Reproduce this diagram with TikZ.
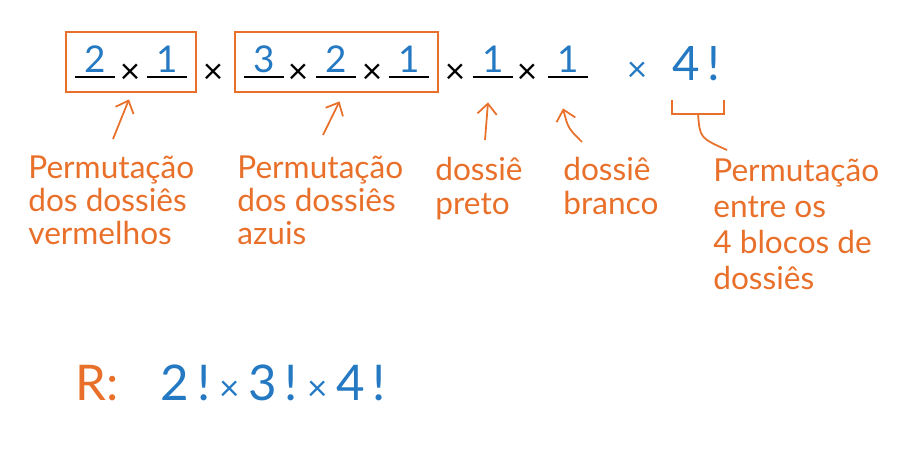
\documentclass[tikz,border=0pt]{standalone}
\usepackage{fontspec}
\setmainfont{Lato}
\usetikzlibrary{positioning, fit, calc, arrows.meta}
\definecolor{penOrange}{HTML}{E8702A}
\definecolor{penBlue}{HTML}{2479C2}

\begin{document}
\begin{tikzpicture}[
    x=0.02cm, y=-0.02cm,
    slot/.style={inner sep=0pt, minimum width=0.8cm, text height=0.5cm, text depth=0.1cm, anchor=base, font=\fontsize{21}{21}\selectfont, penBlue},
    times/.style={inner sep=0pt, font=\fontsize{20}{20}\selectfont},
    group/.style={draw=penOrange, line width=1.2pt, inner xsep=0.18cm, inner ysep=0.3cm},
    note/.style={penOrange, align=left, anchor=north west, inner sep=0pt, font=\fontsize{18}{19}\selectfont},
    pointer/.style={penOrange, line width=1pt, -{Straight Barb[length=6pt, width=11pt]}},
    rule/.style={line width=1pt}
]
\useasboundingbox (0,0) rectangle (900,450);

\node[slot] (d1) at (95,72) {2};
\node[slot] (d2) at (167,72) {1};
\node[slot] (d3) at (264,72) {3};
\node[slot] (d4) at (336,72) {2};
\node[slot] (d5) at (409,72) {1};
\node[slot] (d6) at (493,72) {1};
\node[slot] (d7) at (568,72) {1};
\foreach \d in {d1,d2,d3,d4,d5,d6,d7}
    \draw[rule] (\d.south west) -- (\d.south east);

\node[times] (m1) at (130,74) {×};
\node[times] (m2) at (213,74) {×};
\node[times] (m3) at (298,74) {×};
\node[times] (m4) at (372,74) {×};
\node[times] (m5) at (455,74) {×};
\node[times] (m6) at (527,74) {×};
\node[times, penBlue] (m7) at (637,72) {×};
\node[penBlue, inner sep=0pt, anchor=base west, font=\fontsize{27}{27}\selectfont] (fact) at (672,80) {4\,!};

\node[group, fit=(d1)(d2)] (redbox) {};
\node[group, fit=(d3)(d4)(d5)] (bluebox) {};

\node[note] (lab1) at (28,155) {Permutação\\dos dossiês\\vermelhos};
\node[note] (lab2) at (237,155) {Permutação\\dos dossiês\\azuis};
\node[note] (lab3) at (435,157) {dossiê\\preto};
\node[note] (lab4) at (563,157) {dossiê\\branco};
\node[note, font=\fontsize{18}{20.5}\selectfont] (lab5) at (713,158) {Permutação\\entre os\\4 blocos de\\dossiês};

\coordinate (t1) at (113,139);
\coordinate (t2) at (323,135);
\coordinate (t3) at (485,140);
\coordinate (t4) at (582,142);
\draw[pointer] (t1) -- ($(redbox.south)+(-2,6)$);
\draw[pointer] (t2) -- ($(bluebox.south)+(3,8)$);
\draw[pointer] (t3) -- ($(d6.south)+(-5,25)$);
\draw[pointer] (t4) .. controls (568,128) .. ($(d7.south)+(-5,31)$);

\coordinate (bl) at (672,100);
\coordinate (br) at (724,100);
\coordinate (bm) at (698,114);
\draw[rule, penOrange] (bl) -- ++(0,14) -| (br);
\draw[rule, penOrange] (bm) .. controls (700,138) .. ($(lab5.north west)+(14,-8)$);

\node[penOrange, inner sep=0pt, anchor=base west, font=\fontsize{28}{28}\selectfont] (ans) at (75,400) {R:};
\node[penBlue, inner sep=0pt, anchor=base west, font=\fontsize{28}{28}\selectfont] (res) at (160,400) {2\,!\hspace{5pt}{\fontsize{20}{20}\selectfont ×}\hspace{5pt}3\,!\hspace{5pt}{\fontsize{20}{20}\selectfont ×}\hspace{5pt}4\,!};
\end{tikzpicture}
\end{document}
